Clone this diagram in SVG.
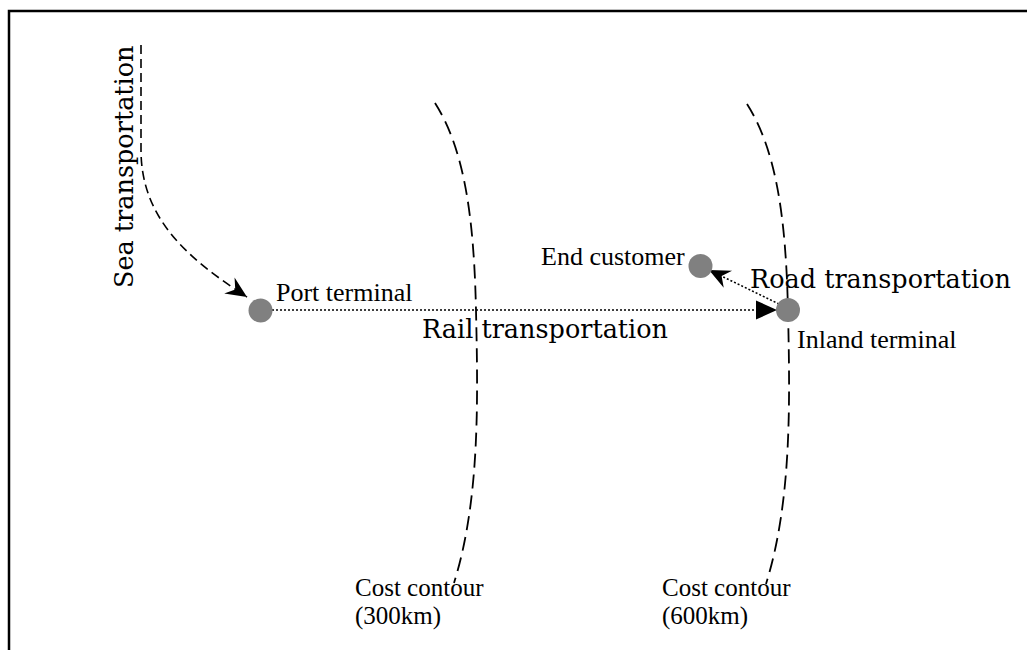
<svg xmlns="http://www.w3.org/2000/svg" width="1027" height="650" viewBox="0 0 1027 650">
  <defs>
    <style>
      .frame { fill: none; stroke: #000; stroke-width: 2.5; }
      .contour { fill: none; stroke: #000; stroke-width: 1.8; stroke-dasharray: 14 7; }
      .sea { fill: none; stroke: #000; stroke-width: 1.6; stroke-dasharray: 9 5; }
      .dotted { fill: none; stroke: #000; stroke-width: 1.6; stroke-dasharray: 2 2; }
      .node { fill: #808080; }
      .label { font-family: "Liberation Serif", "Times New Roman", serif; font-size: 26px; fill: #000; }
      .caption { font-family: "Liberation Serif", "Times New Roman", serif; font-size: 25px; fill: #000; }
      .mode { font-family: "DejaVu Serif", serif; font-size: 25.5px; fill: #000; }
    </style>
    <marker id="barb" markerUnits="userSpaceOnUse" markerWidth="26" markerHeight="26" viewBox="-23 -13 26 26" refX="0" refY="0" orient="auto">
      <path d="M0,0 L-21,-9.5 L-14,0 L-21,9.5 Z" fill="#000"/>
    </marker>
    <marker id="tri" markerUnits="userSpaceOnUse" markerWidth="26" markerHeight="26" viewBox="-23 -13 26 26" refX="0" refY="0" orient="auto">
      <path d="M0,0 L-21,-9.5 L-21,9.5 Z" fill="#000"/>
    </marker>
  </defs>

  <rect width="1027" height="650" fill="#fff"/>
  <path class="frame" d="M9,650 L9,11 L1027,11"/>

  <!-- cost contour lines -->
  <g id="contours">
    <path id="contour-300" class="contour" d="M435,103 C465,150 474,220 476,310 C478,400 480,500 454,583"/>
    <path id="contour-600" class="contour" d="M747,104 C777,151 786,221 788,311 C790,401 792,501 766,584"/>
  </g>

  <!-- connectors -->
  <g id="connectors">
    <path id="sea-link" class="sea" d="M141,45 L141,150 C141,220 190,260 247,297" marker-end="url(#barb)"/>
    <path id="rail-link" class="dotted" d="M272,310 L777,310" marker-end="url(#tri)"/>
    <path id="road-link" class="dotted" d="M779,304 L709,270" marker-end="url(#barb)"/>
  </g>

  <!-- nodes -->
  <g id="port-terminal">
    <circle class="node" cx="260.5" cy="310.5" r="12"/>
    <text class="label" x="276" y="301">Port terminal</text>
  </g>
  <g id="inland-terminal">
    <circle class="node" cx="788" cy="310" r="12"/>
    <text class="label" x="797" y="348">Inland terminal</text>
  </g>
  <g id="end-customer">
    <circle class="node" cx="700.5" cy="266" r="12"/>
    <text class="label" x="541" y="265">End customer</text>
  </g>

  <!-- transport mode labels -->
  <g id="mode-labels">
    <text class="mode" transform="translate(133,288) rotate(-90)">Sea transportation</text>
    <text class="mode" x="422" y="338">Rail transportation</text>
    <text class="mode" x="750" y="288">Road transportation</text>
  </g>

  <!-- contour captions -->
  <g id="contour-labels">
    <text class="caption" x="355" y="596">Cost contour</text>
    <text class="caption" x="355" y="624">(300km)</text>
    <text class="caption" x="662" y="596">Cost contour</text>
    <text class="caption" x="662" y="624">(600km)</text>
  </g>
</svg>
